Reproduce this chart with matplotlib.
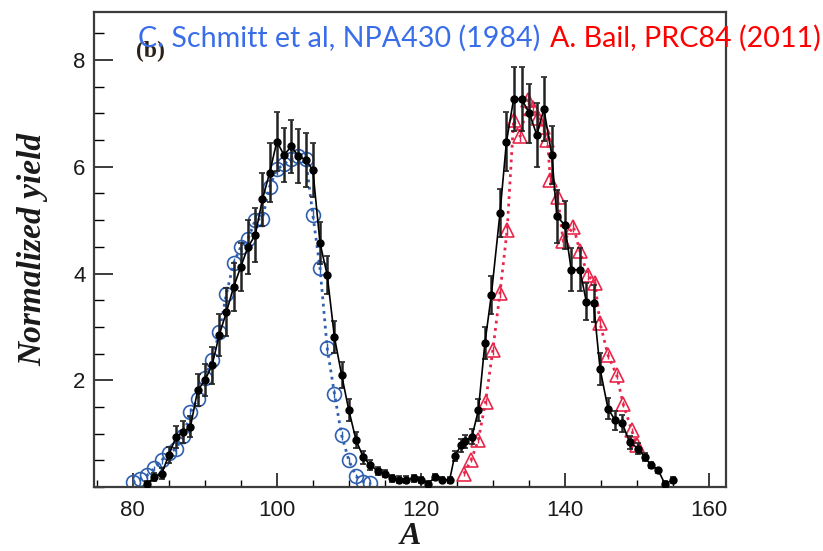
import matplotlib
matplotlib.use('Agg')
import matplotlib.pyplot as plt
from matplotlib.ticker import MultipleLocator

# black: measured yield with error bars
black_A = [82, 83, 84, 85, 86, 87, 88, 89, 90, 91, 92, 93, 94, 95, 96, 97, 98, 99, 100,
           101, 102, 103, 104, 105, 106, 107, 108, 109, 110, 111, 112, 113, 114, 115, 116,
           117, 118, 119, 120, 121, 122, 123, 124,
           124.7, 125.6, 126.2, 127.1, 128, 128.9, 129.8, 131, 131.9, 132.9, 134, 135.1,
           136.1, 137.1, 138.2, 138.9, 140, 140.9, 142.1, 143, 144, 144.9, 146, 147, 148,
           149, 150.2, 151.1, 152, 153, 153.9, 155]
black_Y = [0.06, 0.19, 0.25, 0.6, 0.94, 1.03, 1.13, 1.81, 2.0, 2.28, 2.85, 3.28, 3.75, 4.13,
           4.5, 4.72, 5.39, 5.89, 6.47, 6.22, 6.38, 6.2, 6.13, 5.94, 4.57, 3.97, 2.81, 2.1,
           1.44, 0.88, 0.56, 0.41, 0.3, 0.25, 0.16, 0.14, 0.14, 0.16, 0.13, 0.06, 0.19, 0.14,
           0.13,
           0.58, 0.78, 0.86, 0.94, 1.44, 2.69, 3.6, 5.13, 6.47, 7.27, 7.27, 7.0, 6.6, 7.08,
           6.22, 5.07, 4.91, 4.07, 4.07, 3.47, 3.44, 2.22, 1.47, 1.25, 1.19, 0.84, 0.72, 0.56,
           0.41, 0.31, 0.06, 0.13]
black_err = [0.05, 0.08, 0.1, 0.15, 0.2, 0.2, 0.2, 0.3, 0.3, 0.35, 0.4, 0.45, 0.45, 0.45,
             0.5, 0.5, 0.5, 0.55, 0.55, 0.5, 0.5, 0.5, 0.5, 0.5, 0.4, 0.35, 0.3, 0.25, 0.2,
             0.15, 0.12, 0.1, 0.08, 0.07, 0.06, 0.06, 0.06, 0.06, 0.05, 0.05, 0.05, 0.05, 0.05,
             0.1, 0.12, 0.12, 0.14, 0.2, 0.3, 0.35, 0.45, 0.55, 0.6, 0.6, 0.55, 0.6, 0.6, 0.55,
             0.5, 0.45, 0.4, 0.4, 0.35, 0.35, 0.3, 0.2, 0.18, 0.16, 0.12, 0.1, 0.08, 0.06, 0.05,
             0.05, 0.05]

# blue: Schmitt et al (open circles)
blue_A = [80, 81, 82, 83, 84, 85, 86, 87, 88, 89, 90, 91, 92, 93, 94, 95, 96, 97, 98, 99,
          100, 101, 102, 103, 104, 105, 106, 107, 108, 109, 110, 111, 112, 113]
blue_Y = [0.09, 0.15, 0.22, 0.35, 0.5, 0.63, 0.72, 0.95, 1.4, 1.65, 2.05, 2.38, 2.9, 3.62,
          4.2, 4.5, 4.65, 5.0, 5.03, 5.63, 5.95, 6.05, 6.15, 6.2, 6.15, 5.1, 4.1, 2.6, 1.75,
          0.97, 0.5, 0.2, 0.1, 0.07]
blue_err = [0.03, 0.04, 0.05, 0.05, 0.06, 0.06, 0.07, 0.07, 0.08, 0.08, 0.09, 0.09, 0.1, 0.1,
            0.1, 0.1, 0.1, 0.1, 0.1, 0.1, 0.1, 0.1, 0.1, 0.1, 0.1, 0.1, 0.1, 0.1, 0.09, 0.08,
            0.06, 0.04, 0.03, 0.03]

# red: Bail et al (open triangles)
red_A = [126, 127, 128, 129, 130, 131, 132, 132.9, 133.8, 134.9, 135.6, 136.3, 137, 137.6,
         138, 139, 139.8, 141.2, 142.1, 143.2, 144.2, 144.9, 146, 147.2, 148.1, 149.3, 150]
red_Y = [0.25, 0.51, 0.88, 1.6, 2.56, 3.64, 4.82, 6.88, 6.57, 7.25, 7.1, 6.92, 6.75, 6.5,
         5.75, 5.44, 4.6, 4.88, 4.42, 3.97, 3.82, 3.07, 2.47, 2.1, 1.56, 1.06, 0.78]
red_err = [0.04, 0.05, 0.06, 0.07, 0.08, 0.09, 0.1, 0.1, 0.1, 0.1, 0.1, 0.1, 0.1, 0.1, 0.1,
           0.1, 0.1, 0.1, 0.1, 0.09, 0.09, 0.08, 0.08, 0.07, 0.06, 0.05, 0.05]

fig = plt.figure(figsize=(8.23, 5.51), dpi=100)
ax = fig.add_axes([94 / 823, 64 / 551, 632 / 823, 475 / 551])

blue_c = '#2f5fae'
red_c = '#e8264b'

ax.errorbar(blue_A, blue_Y, yerr=blue_err, color=blue_c, ls=':', lw=2, marker='o', ms=10,
            mfc='none', mec=blue_c, mew=1.2, elinewidth=1, capsize=0, zorder=2)
ax.errorbar(red_A, red_Y, yerr=red_err, color=red_c, ls=':', lw=2, marker='^', ms=10,
            mfc='none', mec=red_c, mew=1.2, elinewidth=1, capsize=0, zorder=2)
ax.errorbar(black_A, black_Y, yerr=black_err, color='black', ls='-', lw=1.2, marker='o',
            ms=5, ecolor='#222222', elinewidth=1.8, capsize=2, capthick=1.2, zorder=3)

ax.set_xlim(74.6, 162.4)
ax.set_ylim(0, 8.9)
ax.xaxis.set_major_locator(MultipleLocator(20))
ax.xaxis.set_minor_locator(MultipleLocator(5))
ax.set_yticks([2, 4, 6, 8])
ax.yaxis.set_minor_locator(MultipleLocator(0.5))
ax.tick_params(axis='x', which='major', direction='in', length=10, width=1.2, pad=9,
               labelsize=16, colors='#1a1a1a')
ax.tick_params(axis='x', which='minor', direction='in', length=5, width=1.0)
ax.tick_params(axis='y', which='major', direction='in', length=14, width=1.2, pad=6,
               labelsize=16, colors='#1a1a1a')
ax.tick_params(axis='y', which='minor', direction='in', length=7.5, width=1.0)
for lab in ax.get_xticklabels() + ax.get_yticklabels():
    lab.set_family('Liberation Sans')
for sp in ax.spines.values():
    sp.set_color('#3c3c3c')
    sp.set_linewidth(1.6)

ax.set_ylabel('Normalized yield', family='Liberation Serif', style='italic',
              weight='bold', fontsize=24, color='#1a1a1a', labelpad=18)
ax.set_xlabel('A', family='Liberation Serif', style='italic', weight='bold',
              fontsize=23, color='#1a1a1a', labelpad=1)

ax.text(80.4, 8.16, '(b)', family='Liberation Serif', weight='bold', fontsize=17,
        color='#2a2218', va='center', ha='left')

fig.text(138 / 823, 1 - 47 / 551, 'C. Schmitt et al, NPA430 (1984)', family='Lato',
         fontsize=20.6, color='#3a6ee8', va='baseline', ha='left')
fig.text(550 / 823, 1 - 47 / 551, 'A. Bail, PRC84 (2011)', family='Lato',
         fontsize=20.6, color='#ff0000', va='baseline', ha='left')

fig.savefig('out.png', dpi=100, facecolor='white')
